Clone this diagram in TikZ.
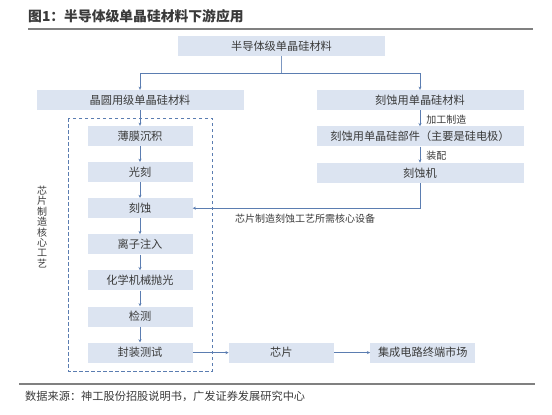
\documentclass[tikz,border=0pt]{standalone}
\usepackage{fontspec}
\setmainfont{Noto Sans CJK SC}
\usetikzlibrary{arrows.meta, positioning}
\definecolor{boxfill}{HTML}{DCE4F1}
\definecolor{flow}{HTML}{5B7DB1}
\definecolor{ink}{HTML}{3A3A3A}
\definecolor{rule}{HTML}{808080}

\begin{document}
\begin{tikzpicture}[
    x=1pt, y=-1pt,
    every node/.style={font=\fontsize{11.2}{12}\selectfont, text=ink},
    stage/.style={rectangle, fill=boxfill, inner sep=0pt,
                  minimum width=105pt, minimum height=20pt},
    wide/.style={stage, minimum width=207pt},
    note/.style={font=\fontsize{10}{10.4}\selectfont, inner sep=0pt},
    arrow/.style={-{Stealth[length=3.2pt, width=3pt]}, draw=flow, line width=0.6pt},
    link/.style={draw=flow!80, line width=0.6pt}
  ]
    \useasboundingbox (0,0) rectangle (552,415);

    % title and rules
    \node[anchor=west, inner sep=0pt, font=\fontsize{13.8}{15}\selectfont\bfseries] (title) at (28,16) {图1：半导体级单晶硅材料下游应用};
    \draw[rule, line width=1.1pt] (28,29) -- (533,29);
    \draw[rule, line width=1.1pt] (19,384) -- (535,384);
    \node[anchor=west, note, font=\fontsize{11.2}{12}\selectfont] (src) at (25,396) {数据来源：神工股份招股说明书，广发证券发展研究中心};

    % materials
    \node[wide] (top) at (281.5,46) {半导体级单晶硅材料};
    \node[wide] (wafer) at (140,100) {晶圆用级单晶硅材料};
    \node[wide] (etchmat) at (420,100) {刻蚀用单晶硅材料};
    \node[wide, below=16pt of etchmat] (parts) {刻蚀用单晶硅部件（主要是硅电极）};
    \node[wide, below=16pt of parts] (etcher) {刻蚀机};

    % process chain
    \node[stage] (p1) at (140,136) {薄膜沉积};
    \node[stage, below=15.7pt of p1] (p2) {光刻};
    \node[stage, below=15.7pt of p2] (p3) {刻蚀};
    \node[stage, below=15.7pt of p3] (p4) {离子注入};
    \node[stage, below=15.7pt of p4] (p5) {化学机械抛光};
    \node[stage, below=15.7pt of p5] (p6) {检测};
    \node[stage, below=15.7pt of p6] (p7) {封装测试};
    \node[stage, right=36pt of p7] (chip) {芯片};
    \node[stage, right=36pt of chip] (ic) {集成电路终端市场};

    \draw[flow, line width=0.9pt, dash pattern=on 3.5pt off 2.5pt] (68,118) rectangle (212,371);
    \node[note, align=center, text width=14pt] (core) at (42,227) {芯\\片\\制\\造\\核\\心\\工\\艺};

    % connectors
    \coordinate (split) at (281.5,73);
    \draw[link] (top.south) -- (split);
    \draw[arrow] (split) -| (wafer.north);
    \draw[arrow] (split) -| (etchmat.north);
    \draw[arrow] (wafer) -- (p1);
    \draw[arrow] (p1) -- (p2);
    \draw[arrow] (p2) -- (p3);
    \draw[arrow] (p3) -- (p4);
    \draw[arrow] (p4) -- (p5);
    \draw[arrow] (p5) -- (p6);
    \draw[arrow] (p6) -- (p7);
    \draw[arrow] (etchmat) -- node[note, right=6pt, yshift=-2pt] {加工制造} (parts);
    \draw[arrow] (parts) -- node[note, right=6pt, yshift=-1pt] {装配} (etcher);
    \draw[arrow] (etcher.south) |- (p3.east);
    \node[note] (need) at (305,219) {芯片制造刻蚀工艺所需核心设备};
    \draw[arrow] (p7) -- (chip);
    \draw[arrow] (chip) -- (ic);
  \end{tikzpicture}
\end{document}
